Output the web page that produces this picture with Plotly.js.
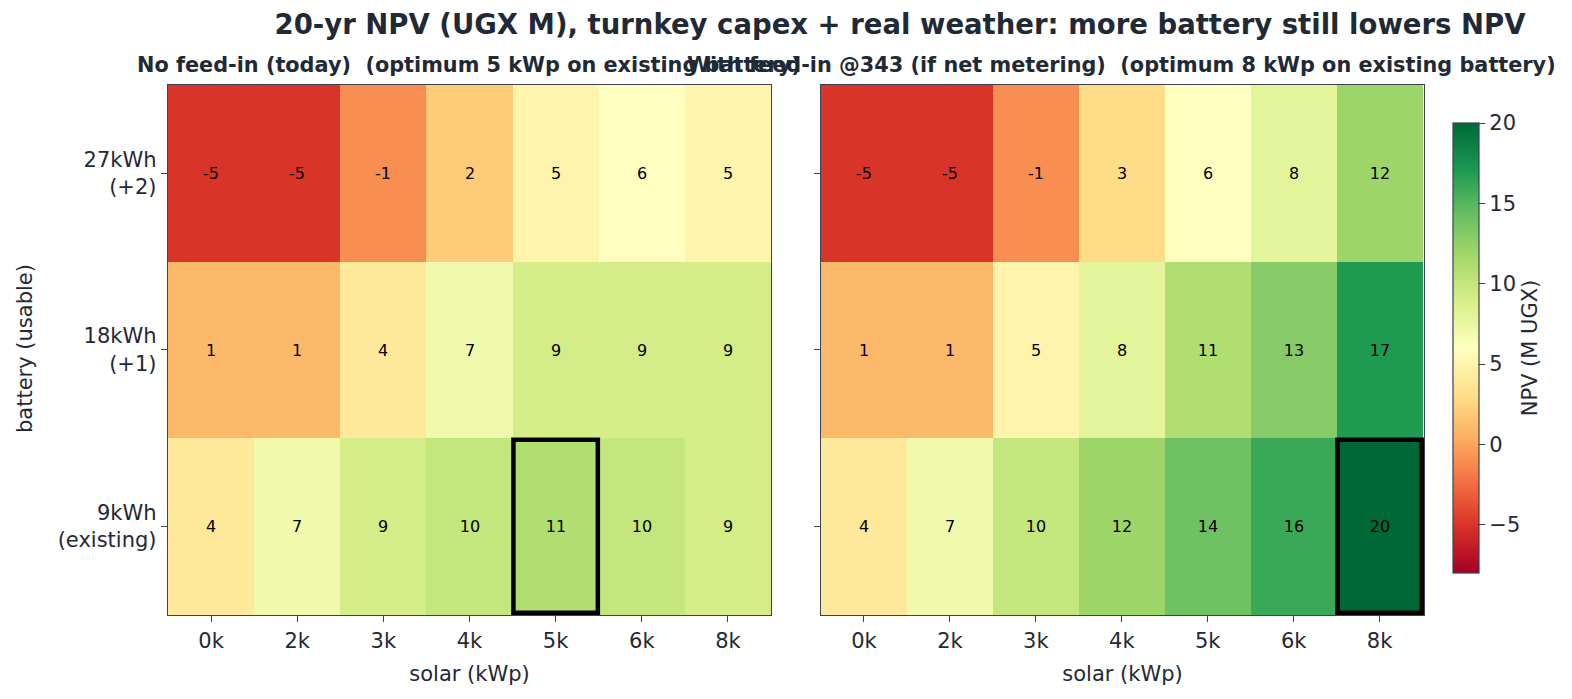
<!DOCTYPE html>
<html>
<head>
<meta charset="utf-8">
<script src="https://cdn.plot.ly/plotly-3.0.1.min.js"></script>
<style>
  body { margin: 0; background: #fff; }
  #chart { width: 1572px; height: 699px; }
</style>
</head>
<body>
<div id="chart"></div>
<script>
// solar sizes (columns) and battery sizes (rows, top to bottom)
var solar = ['0k', '2k', '3k', '4k', '5k', '6k', '8k'];
var battery = ['27kWh<br>(+2)', '18kWh<br>(+1)', '9kWh<br>(existing)'];

// 20-yr NPV, M UGX
var npv_nofeed = [
  [-5, -5, -1, 2, 5, 6, 5],
  [1, 1, 4, 7, 9, 9, 9],
  [4, 7, 9, 10, 11, 10, 9]
];
var npv_feed = [
  [-5, -5, -1, 3, 6, 8, 12],
  [1, 1, 5, 8, 11, 13, 17],
  [4, 7, 10, 12, 14, 16, 20]
];

var zmin = -8, zmax = 20;

// matplotlib RdYlGn
var rdylgn = ['#a50026', '#d73027', '#f46d43', '#fdae61', '#fee08b', '#ffffbf',
              '#d9ef8b', '#a6d96a', '#66bd63', '#1a9850', '#006837'];
var cscale = rdylgn.map(function (c, i) { return [i / (rdylgn.length - 1), c]; });

var ink = '#1f2a36';
var frame = '#3b4250';
var font = 'DejaVu Sans';

function argmax(a) {
  var k = 0;
  for (var i = 1; i < a.length; i++) if (a[i] > a[k]) k = i;
  return k;
}

// plain hyphen labels like the original
function labels(z) {
  return z.map(function (row) { return row.map(function (v) { return String(v); }); });
}

var left = {
  type: 'heatmap',
  x: solar, y: battery, z: npv_nofeed, text: labels(npv_nofeed),
  zmin: zmin, zmax: zmax, colorscale: cscale,
  texttemplate: '%{text}', textfont: {size: 16, color: 'black', family: font},
  showscale: false,
  xaxis: 'x', yaxis: 'y'
};

var right = {
  type: 'heatmap',
  x: solar, y: battery, z: npv_feed, text: labels(npv_feed),
  zmin: zmin, zmax: zmax, colorscale: cscale,
  texttemplate: '%{text}', textfont: {size: 16, color: 'black', family: font},
  xaxis: 'x2', yaxis: 'y2',
  colorbar: {
    x: 1453 / 1572, xanchor: 'left', xpad: 0,
    y: 1 - 348 / 699, yanchor: 'middle',
    len: 450, lenmode: 'pixels', ypad: 0,
    thickness: 26, thicknessmode: 'pixels',
    outlinewidth: 1.2, outlinecolor: frame,
    ticks: 'outside', ticklen: 6, tickcolor: frame,
    tickvals: [-5, 0, 5, 10, 15, 20],
    ticktext: ['\u22125', '0', '5', '10', '15', '20'],
    tickfont: {size: 21, color: ink},
    title: {text: 'NPV (M UGX)', side: 'right', font: {size: 21, color: ink}}
  }
};

var bestL = argmax(npv_nofeed[2]);
var bestR = argmax(npv_feed[2]);
var bottomRow = battery.length - 1;

function box(xr, yr, i, j) {
  return {
    type: 'rect', xref: xr, yref: yr,
    x0: i - 0.49, x1: i + 0.49, y0: j - 0.49, y1: j + 0.49,
    line: {color: 'black', width: 4.5}, fillcolor: 'rgba(0,0,0,0)'
  };
}

var xbase = {
  type: 'category', showline: true, linecolor: frame, linewidth: 1.3, mirror: true,
  ticks: 'outside', ticklen: 6, tickcolor: frame, showgrid: false, zeroline: false,
  tickfont: {size: 21, color: ink},
  title: {text: 'solar (kWp)', font: {size: 21, color: ink}, standoff: 14}
};
var ybase = {
  type: 'category', autorange: 'reversed', showline: true, linecolor: frame, linewidth: 1.3,
  mirror: true, ticks: 'outside', ticklen: 6, tickcolor: frame, showgrid: false,
  zeroline: false, tickfont: {size: 21, color: ink},
  domain: [84 / 699, 614 / 699]
};

var layout = {
  width: 1572, height: 699,
  margin: {l: 0, r: 0, t: 0, b: 0, autoexpand: false},
  paper_bgcolor: 'white', plot_bgcolor: 'white',
  font: {family: font, color: ink},
  title: {
    text: '<b>20-yr NPV (UGX M), turnkey capex + real weather: more battery still lowers NPV</b>',
    x: 900 / 1572, xanchor: 'center', y: 1 - 24 / 699, yanchor: 'middle',
    font: {size: 27.5, color: ink}
  },
  xaxis: Object.assign({}, xbase, {domain: [168 / 1572, 771 / 1572], anchor: 'y'}),
  yaxis: Object.assign({}, ybase, {anchor: 'x'}),
  xaxis2: Object.assign({}, xbase, {domain: [821 / 1572, 1424 / 1572], anchor: 'y2'}),
  yaxis2: Object.assign({}, ybase, {anchor: 'x2', showticklabels: false}),
  shapes: [box('x', 'y', bestL, bottomRow), box('x2', 'y2', bestR, bottomRow)],
  annotations: [
    {text: '<b>No feed-in (today)  (optimum 5 kWp on existing battery)</b>',
     xref: 'paper', yref: 'paper', x: 469 / 1572, y: 1 - 65 / 699,
     xanchor: 'center', yanchor: 'middle', showarrow: false,
     font: {size: 20.8, color: ink}},
    {text: '<b>With feed-in @343 (if net metering)  (optimum 8 kWp on existing battery)</b>',
     xref: 'paper', yref: 'paper', x: 1121 / 1572, y: 1 - 65 / 699,
     xanchor: 'center', yanchor: 'middle', showarrow: false,
     font: {size: 20.8, color: ink}},
    {text: 'battery (usable)', xref: 'paper', yref: 'paper', x: 25 / 1572, y: 1 - 349 / 699,
     xanchor: 'center', yanchor: 'middle', textangle: -90, showarrow: false,
     font: {size: 21, color: ink}}
  ]
};

Plotly.newPlot('chart', [left, right], layout, {displayModeBar: false, staticPlot: true});
</script>
</body>
</html>
